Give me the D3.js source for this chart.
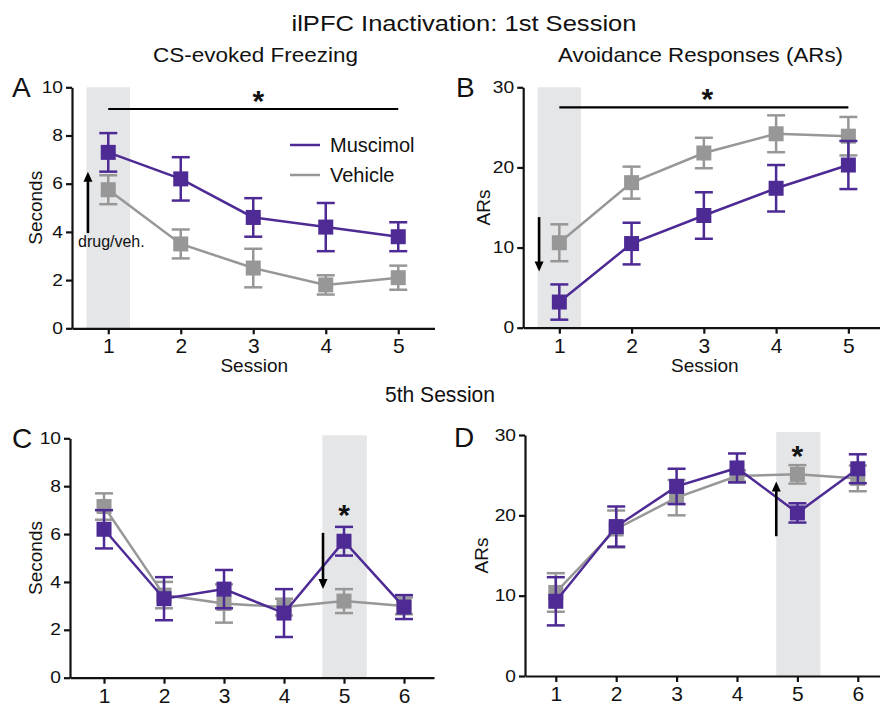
<!DOCTYPE html>
<html>
<head>
<meta charset="utf-8">
<script src="https://cdn.jsdelivr.net/npm/d3@7"></script>
<style>
  body { margin: 0; background: #fff; }
  svg text { font-family: "Liberation Sans", Arial, sans-serif; fill: #111; }
</style>
</head>
<body>
<svg id="fig" width="880" height="707"></svg>
<script>
// sessions
const sessionsFirst = [1, 2, 3, 4, 5];
const sessionsFifth = [1, 2, 3, 4, 5, 6];

// A: CS-evoked freezing (seconds), mean and SEM
const freezeMusA = [7.3, 6.2, 4.6, 4.2, 3.8];
const freezeMusAErr = [0.8, 0.9, 0.8, 1.0, 0.6];
const freezeVehA = [5.75, 3.5, 2.5, 1.8, 2.1];
const freezeVehAErr = [0.6, 0.6, 0.8, 0.4, 0.5];

// B: avoidance responses
const arMusB = [3.2, 10.5, 14.0, 17.4, 20.3];
const arMusBErr = [2.2, 2.6, 2.9, 2.9, 3.0];
const arVehB = [10.6, 18.1, 21.8, 24.2, 23.9];
const arVehBErr = [2.3, 2.0, 1.9, 2.3, 2.4];

// C: freezing, 5th session inactivation
const freezeMusC = [6.2, 3.3, 3.7, 2.7, 5.7, 2.95];
const freezeMusCErr = [0.8, 0.9, 0.8, 1.0, 0.6, 0.5];
const freezeVehC = [7.15, 3.45, 3.1, 2.95, 3.2, 3.0];
const freezeVehCErr = [0.55, 0.55, 0.8, 0.35, 0.5, 0.35];

// D: ARs, 5th session inactivation
const arMusD = [9.3, 18.6, 23.6, 25.9, 20.3, 25.8];
const arMusDErr = [3.0, 2.5, 2.2, 1.8, 1.2, 1.8];
const arVehD = [10.4, 18.3, 22.2, 24.9, 25.1, 24.6];
const arVehDErr = [2.4, 2.3, 2.2, 0.7, 1.15, 1.6];

const freezeTicks = [0, 2, 4, 6, 8, 10];
const arTicks = [0, 10, 20, 30];

const PURPLE = '#4d2a94';
const GRAY = '#979797';
const SHADE = '#e5e6e8';

const svg = d3.select('#fig');

// the source figure is a bit stretched sideways, so most text is widened with textLength
function label(x, y, str, size, width, anchor) {
  const t = svg.append('text').attr('x', x).attr('y', y)
    .attr('text-anchor', anchor || 'middle').style('font-size', size + 'px').text(str);
  if (width) t.attr('textLength', width).attr('lengthAdjust', 'spacingAndGlyphs');
  return t;
}

label(464, 31, 'ilPFC Inactivation: 1st Session', 22, 345);
label(255.5, 62, 'CS-evoked Freezing', 21, 205);
label(700.5, 62, 'Avoidance Responses (ARs)', 21, 285);
label(440, 402, '5th Session', 22, 110);

const Y_STRETCH = 1.2;

function panel(cfg) {
  const g = svg.append('g');
  const x = d3.scaleLinear().domain(cfg.xDom).range(cfg.xRange);
  const y = d3.scaleLinear().domain([0, cfg.yMax]).range(cfg.yRange);

  // shaded injection session
  g.append('rect')
    .attr('x', x(cfg.shade[0])).attr('width', x(cfg.shade[1]) - x(cfg.shade[0]))
    .attr('y', y(cfg.yMax) - cfg.shadeTopPad).attr('height', y(0) - y(cfg.yMax) + cfg.shadeTopPad)
    .attr('fill', SHADE);

  // axes
  const yAxis = g.append('g').attr('transform', `translate(${cfg.xRange[0]},0)`)
    .call(d3.axisLeft(y).tickValues(cfg.yTicks).tickSize(6).tickSizeOuter(0).tickPadding(3));
  const xAxis = g.append('g').attr('transform', `translate(0,${cfg.yRange[0]})`)
    .call(d3.axisBottom(x).tickValues(cfg.sessions).tickSize(6).tickSizeOuter(0).tickPadding(4)
      .tickFormat(d3.format('d')));
  [yAxis, xAxis].forEach(a => {
    a.select('.domain').attr('stroke', '#111').attr('stroke-width', 2.2);
    a.selectAll('.tick line').attr('stroke', '#111').attr('stroke-width', 2.2);
    a.selectAll('.tick text').attr('fill', '#111');
  });
  yAxis.selectAll('.tick text').style('font-size', '16px')
    .attr('x', -9 / Y_STRETCH).attr('transform', `scale(${Y_STRETCH},1)`);
  xAxis.selectAll('.tick text').style('font-size', '21px');

  // axis titles
  g.append('text')
    .attr('transform', `translate(${cfg.yLabelX},${(cfg.yRange[0] + cfg.yRange[1]) / 2}) rotate(-90)`)
    .attr('text-anchor', 'middle').style('font-size', '19px').text(cfg.yLabel);
  if (cfg.xLabel) {
    g.append('text').attr('x', (cfg.xRange[0] + cfg.xRange[1]) / 2 + 1).attr('y', cfg.yRange[0] + 44)
      .attr('text-anchor', 'middle').style('font-size', '19px').text(cfg.xLabel);
  }
  // panel letter
  g.append('text').attr('x', cfg.letterPos[0]).attr('y', cfg.letterPos[1])
    .style('font-size', '28px').text(cfg.letter);

  // series: vehicle underneath, muscimol on top
  const series = [
    { mean: cfg.veh, err: cfg.vehErr, color: GRAY },
    { mean: cfg.mus, err: cfg.musErr, color: PURPLE }
  ];
  const line = d3.line().x(d => x(d.s)).y(d => y(d.m));
  series.forEach(sr => {
    const pts = cfg.sessions.map((s, i) => ({ s, m: sr.mean[i], e: sr.err[i] }));
    g.append('path').datum(pts).attr('d', line)
      .attr('fill', 'none').attr('stroke', sr.color).attr('stroke-width', 2.5);
    const eb = g.append('g').selectAll('g').data(pts).join('g')
      .attr('stroke', sr.color).attr('stroke-width', 2.5);
    eb.append('line').attr('x1', d => x(d.s)).attr('x2', d => x(d.s))
      .attr('y1', d => y(d.m - d.e)).attr('y2', d => y(d.m + d.e));
    eb.append('line').attr('x1', d => x(d.s) - 9).attr('x2', d => x(d.s) + 9)
      .attr('y1', d => y(d.m + d.e)).attr('y2', d => y(d.m + d.e));
    eb.append('line').attr('x1', d => x(d.s) - 9).attr('x2', d => x(d.s) + 9)
      .attr('y1', d => y(d.m - d.e)).attr('y2', d => y(d.m - d.e));
    g.append('g').selectAll('rect').data(pts).join('rect')
      .attr('x', d => x(d.s) - 7.5).attr('y', d => y(d.m) - 7.5)
      .attr('width', 15).attr('height', 15).attr('fill', sr.color);
  });

  // drug arrow
  const a = cfg.arrow;
  const ax = x(a.s), y0 = y(a.from), y1 = y(a.to);
  const dir = y1 < y0 ? -1 : 1;
  g.append('line').attr('x1', ax).attr('x2', ax).attr('y1', y0).attr('y2', y1 - dir * 8)
    .attr('stroke', '#000').attr('stroke-width', 2.6);
  g.append('path')
    .attr('d', `M${ax - 4.5},${y1 - dir * 10}L${ax + 4.5},${y1 - dir * 10}L${ax},${y1}Z`)
    .attr('fill', '#000');

  // significance
  if (cfg.sigBar) {
    g.append('line').attr('x1', x(cfg.sigBar[0])).attr('x2', x(cfg.sigBar[1]))
      .attr('y1', y(cfg.sigBar[2])).attr('y2', y(cfg.sigBar[2]))
      .attr('stroke', '#000').attr('stroke-width', 2.2);
  }
  g.append('text').attr('x', x(cfg.star[0])).attr('y', y(cfg.star[1]) + 14)
    .attr('text-anchor', 'middle').style('font-size', '30px').style('font-weight', 'bold').text('*');

  return { g, x, y };
}

const pA = panel({
  letter: 'A', letterPos: [12, 97],
  sessions: sessionsFirst, xDom: [0.5, 5.5], xRange: [72, 434.5],
  yMax: 10, yRange: [328.3, 87.3], yTicks: freezeTicks,
  yLabel: 'Seconds', yLabelX: 42, xLabel: 'Session',
  shade: [0.7, 1.3], shadeTopPad: 0,
  mus: freezeMusA, musErr: freezeMusAErr, veh: freezeVehA, vehErr: freezeVehAErr,
  arrow: { s: 0.72, from: 3.95, to: 6.5 },
  sigBar: [1, 5, 9.1], star: [3.07, 9.6]
});
pA.g.append('text').attr('x', 78).attr('y', 247).style('font-size', '16px')
  .attr('fill', '#333').text('drug/veh.');
// legend
[['Muscimol', PURPLE, 145], ['Vehicle', GRAY, 175]].forEach(([name, col, ly]) => {
  pA.g.append('line').attr('x1', 290).attr('x2', 320).attr('y1', ly).attr('y2', ly)
    .attr('stroke', col).attr('stroke-width', 2.5);
  pA.g.append('text').attr('x', 330).attr('y', ly + 7).style('font-size', '20px').text(name);
});

panel({
  letter: 'B', letterPos: [456, 97],
  sessions: sessionsFirst, xDom: [0.5, 5.5], xRange: [523.2, 884.5],
  yMax: 30, yRange: [327.7, 87.3], yTicks: arTicks,
  yLabel: 'ARs', yLabelX: 490, xLabel: 'Session',
  shade: [0.7, 1.3], shadeTopPad: 0,
  mus: arMusB, musErr: arMusBErr, veh: arVehB, vehErr: arVehBErr,
  arrow: { s: 0.72, from: 13.8, to: 7.0 },
  sigBar: [1, 5, 27.5], star: [3.05, 29.0]
});

panel({
  letter: 'C', letterPos: [12, 448],
  sessions: sessionsFifth, xDom: [0.433, 6.5], xRange: [70, 434],
  yMax: 10, yRange: [677.7, 438.3], yTicks: freezeTicks,
  yLabel: 'Seconds', yLabelX: 42, xLabel: null,
  shade: [4.64, 5.38], shadeTopPad: 3,
  mus: freezeMusC, musErr: freezeMusCErr, veh: freezeVehC, vehErr: freezeVehCErr,
  arrow: { s: 4.65, from: 6.05, to: 3.7 },
  sigBar: null, star: [5.0, 6.95]
});

panel({
  letter: 'D', letterPos: [454, 447],
  sessions: sessionsFifth, xDom: [0.49, 6.5], xRange: [525, 888],
  yMax: 30, yRange: [676, 435], yTicks: arTicks,
  yLabel: 'ARs', yLabelX: 488, xLabel: null,
  shade: [4.65, 5.38], shadeTopPad: 3,
  mus: arMusD, musErr: arMusDErr, veh: arVehD, vehErr: arVehDErr,
  arrow: { s: 4.65, from: 17.4, to: 24.2 },
  sigBar: null, star: [5.0, 27.9]
});
</script>
</body>
</html>
